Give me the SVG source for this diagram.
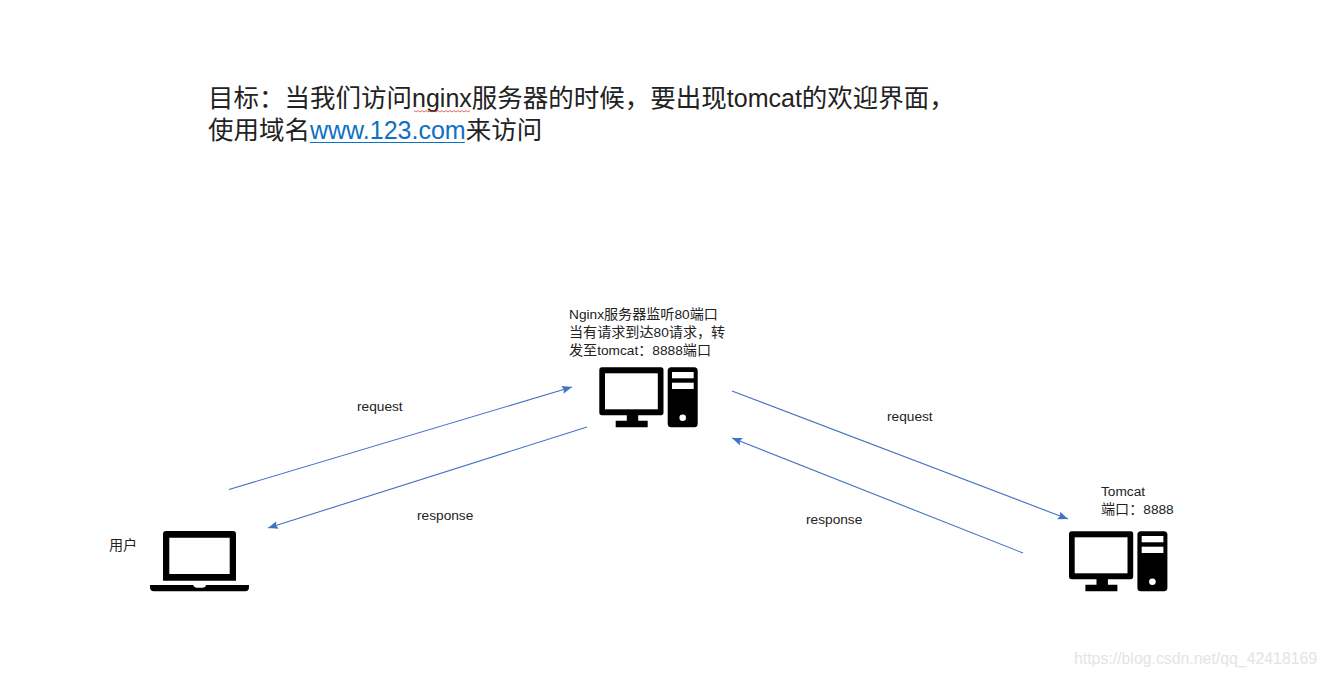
<svg xmlns="http://www.w3.org/2000/svg" xmlns:xlink="http://www.w3.org/1999/xlink" width="1326" height="676" viewBox="0 0 1326 676">
<style>
text{font-family:"Noto Sans CJK SC","Liberation Sans",sans-serif;fill:#222}
.title{font-size:25.500px}
.title .lat{font-size:25px}
.small{font-size:14.100px}
.small .lat,.small.lat{font-size:13.700px}
.lat{font-family:"Liberation Sans",sans-serif}
.conn{fill:none;stroke:#4472c4;stroke-width:1.1;marker-end:url(#arrow)}
.ink{fill:#000}.hole{fill:#fff}
</style>
<defs>
<marker id="arrow" markerUnits="userSpaceOnUse" markerWidth="12" markerHeight="10" refX="10" refY="4" orient="auto"><path d="M0 0L10 4L0 8L1.5 4Z" fill="#4472c4"/></marker>
<g id="pc">
<path class="ink" d="M602 367.300H661Q663.500 367.300 663.500 370V412.500Q663.500 415.200 661 415.200H638.200V420.800H647.700V427.300H615.700V420.800H626.800V415.200H602Q599.300 415.200 599.300 412.500V370Q599.300 367.300 602 367.300Z"/>
<rect class="hole" x="605" y="373.300" width="52.800" height="36"/>
<rect class="ink" x="667.700" y="367.300" width="30" height="60" rx="3.500"/>
<rect class="hole" x="672" y="372" width="21.700" height="6.300"/>
<rect class="hole" x="672" y="382.700" width="21.700" height="6.300"/>
<circle class="hole" cx="682.700" cy="417.700" r="3.300"/>
</g>
</defs>
<rect width="1326" height="676" fill="#fff"/>
<g id="title">
<text class="title" x="208" y="107">目标：当我们访问<tspan class="lat">nginx</tspan>服务器的时候，要出现<tspan class="lat">tomcat</tspan>的欢迎界面，</text>
<text class="title" x="208" y="139">使用域名<tspan class="lat" style="fill:#0f6fc6">www.123.com</tspan>来访问</text>
<path d="M310 142.500H465" stroke="#0f6fc6" stroke-width="1.200" fill="none"/>
<path d="M414 110.500l2 1.500 2-1.500 2 1.500 2-1.500 2 1.500 2-1.500 2 1.500 2-1.500 2 1.500 2-1.500 2 1.500 2-1.500 2 1.500 2-1.500 2 1.500 2-1.500 2 1.500 2-1.500 2 1.500 2-1.500 2 1.500 2-1.500 2 1.500 2-1.500 2 1.500 2-1.500 2 1.500 2-1.500" stroke="#e04040" stroke-width="0.800" fill="none"/>
</g>
<g id="connectors">
<path class="conn" d="M229 489.500L572 387"/>
<path class="conn" d="M587 427L268 528"/>
<path class="conn" d="M732 391L1068 519"/>
<path class="conn" d="M1023 553L732 438"/>
</g>
<g id="connector-labels">
<text class="small lat" x="357" y="411">request</text>
<text class="small lat" x="417" y="520">response</text>
<text class="small lat" x="887" y="421">request</text>
<text class="small lat" x="806" y="524">response</text>
</g>
<g id="nginx">
<use href="#pc" xlink:href="#pc"/>
<text class="small" x="569" y="319"><tspan class="lat">Nginx</tspan>服务器监听<tspan class="lat">80</tspan>端口</text>
<text class="small" x="569" y="337">当有请求到达<tspan class="lat">80</tspan>请求，转</text>
<text class="small" x="569" y="355">发至<tspan class="lat">tomcat</tspan>：<tspan class="lat">8888</tspan>端口</text>
</g>
<g id="tomcat">
<use href="#pc" xlink:href="#pc" transform="translate(469.700 164)"/>
<text class="small lat" x="1101" y="496">Tomcat</text>
<text class="small" x="1101" y="514">端口：<tspan class="lat">8888</tspan></text>
</g>
<g id="user">
<path class="ink" fill-rule="evenodd" d="M166 531H233Q236 531 236 534V580.700H163V534Q163 531 166 531ZM169.300 537.700V574H229.700V537.700Z"/>
<path class="ink" d="M150 585H193.300Q194 587.700 197 587.700H202.500Q205.500 587.700 206 585H249V587Q249 591.300 245 591.300H154Q150 591.300 150 587Z"/>
<text class="small" x="109" y="550">用户</text>
</g>
<text x="1074" y="664" class="lat" style="font-size:15.850px;fill:#e4e4e4">https://blog.csdn.net/qq_42418169</text>
</svg>
